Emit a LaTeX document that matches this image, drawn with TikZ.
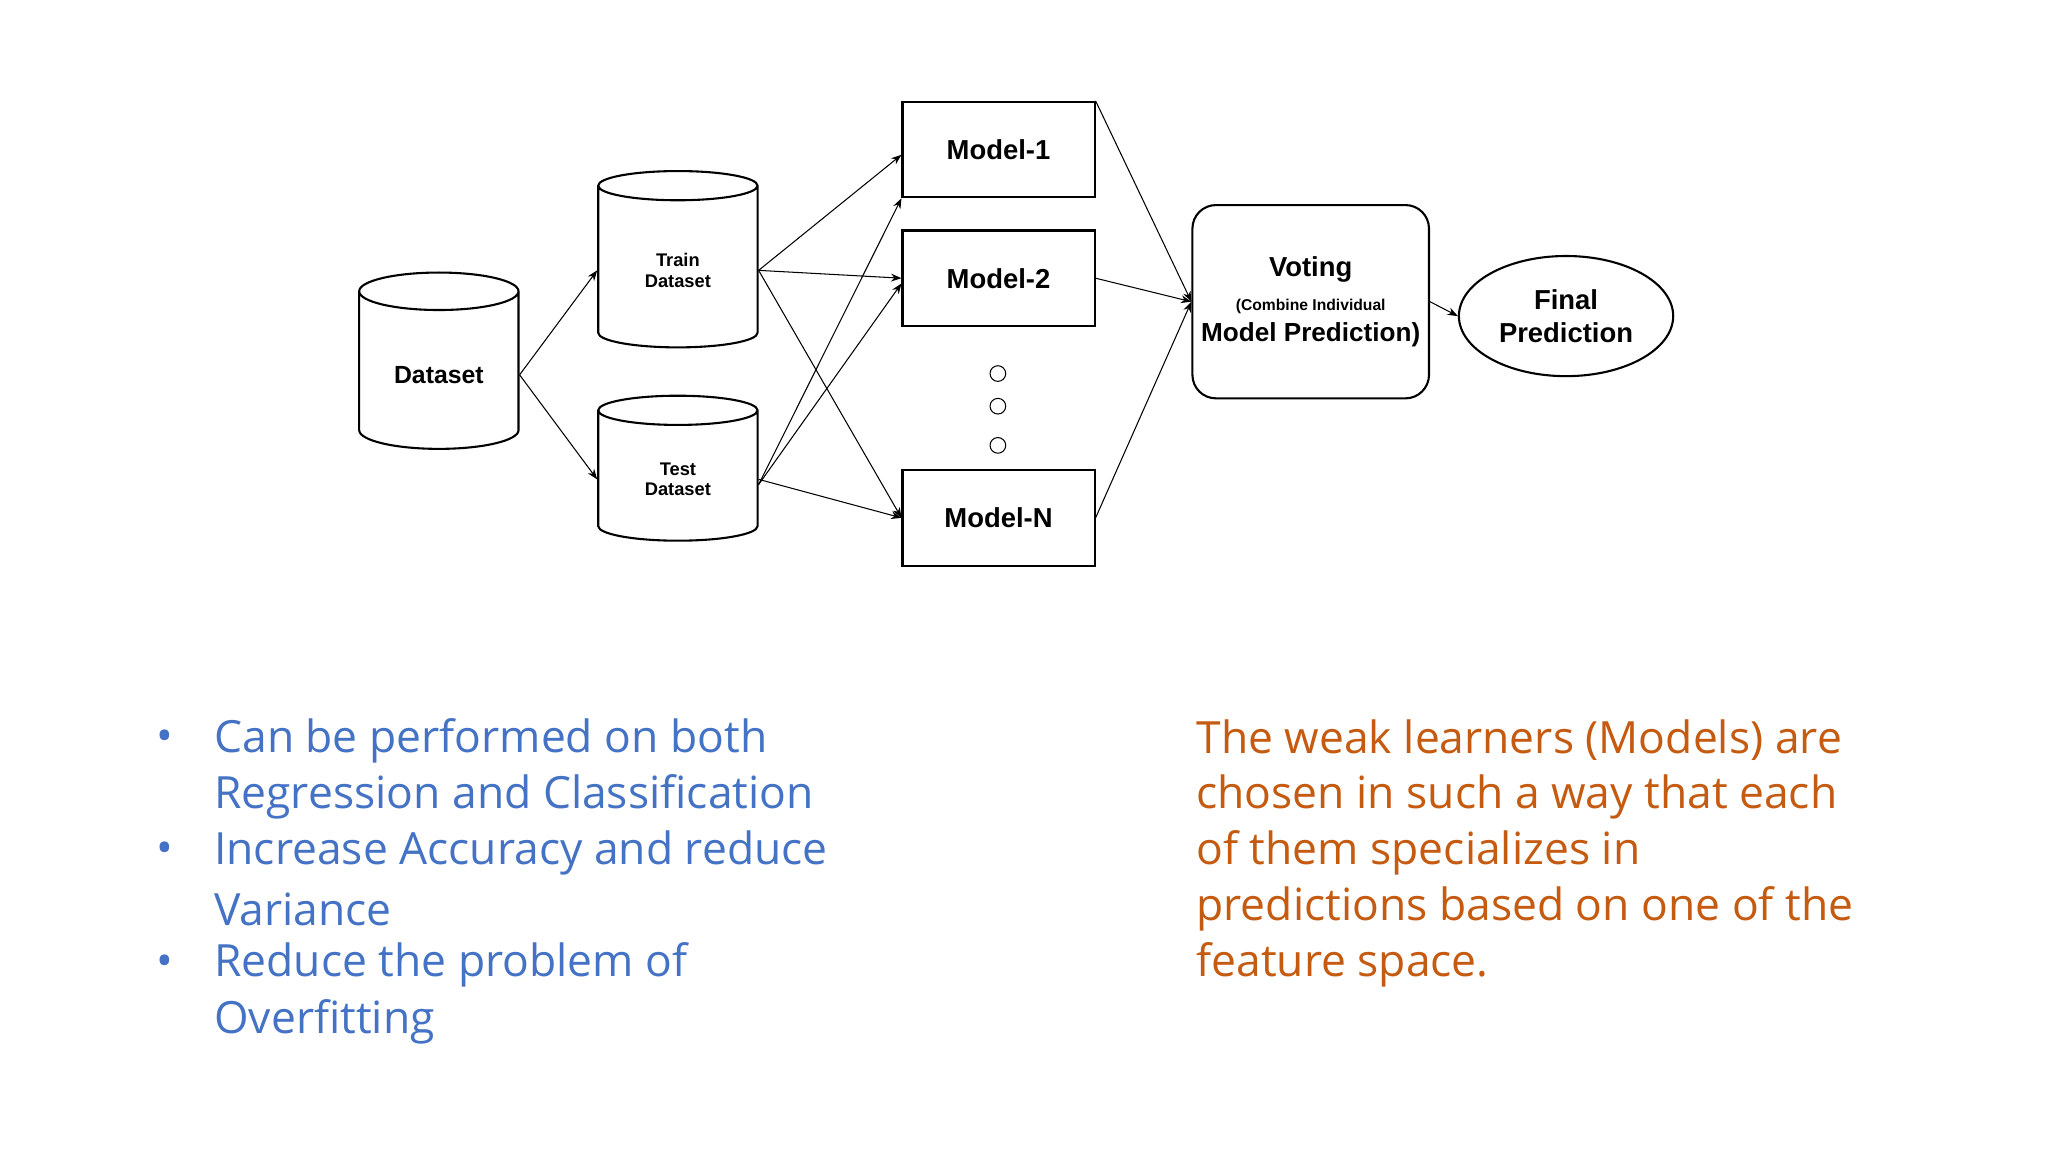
\documentclass[tikz,border=0pt]{standalone}
\usepackage{fontspec}
\setmainfont{Liberation Sans}
\newfontfamily\body{Open Sans}
\usetikzlibrary{shapes.geometric,arrows.meta}
\definecolor{bl}{HTML}{4472C4}
\definecolor{or}{HTML}{C55A11}
\begin{document}
\begin{tikzpicture}[x=0.5pt,y=-0.5pt,
 cyl/.style={cylinder,shape border rotate=90,draw,thick,aspect=0.35,minimum width=61pt,align=center,font=\bfseries\fontsize{7}{8}\selectfont},
 box/.style={draw,thick,minimum width=73.5pt,minimum height=36.5pt,font=\bfseries\fontsize{10.5}{12}\selectfont},
 arr/.style={-{Stealth[length=4pt,width=3pt]},thin},
 dot/.style={circle,draw,inner sep=0pt,minimum size=6pt},
 btxt/.style={anchor=west,font=\body\fontsize{17}{21.5}\selectfont}]
\useasboundingbox (0,0) rectangle (1568,882);
\node[cyl,minimum height=67.5pt,font=\bfseries\fontsize{9.5}{11}\selectfont] (ds) at (336,287) {Dataset};
\node[cyl,minimum height=67.5pt] (tr) at (519,207) {Train\\Dataset};
\node[cyl,minimum height=55.5pt] (te) at (519,367) {Test\\Dataset};
\node[box] (m1) at (764.5,114.5) {Model-1};
\node[box] (m2) at (764.5,213) {Model-2};
\node[box] (mn) at (764.5,396.5) {Model-N};
\node[dot] (d1) at (764,286) {};
\node[dot] (d2) at (764,311) {};
\node[dot] (d3) at (764,341) {};
\node[draw,thick,rounded corners=9pt,minimum width=79.5pt,minimum height=74pt,align=center,font=\bfseries] (v) at (1003.5,231)
 {\fontsize{10.5}{12}\selectfont Voting\\[1pt]\fontsize{6}{8.5}\selectfont (Combine Individual\\Model Prediction)};
\node[ellipse,draw,thick,minimum width=67pt,minimum height=46pt,align=center,font=\bfseries\fontsize{10.5}{12.5}\selectfont] (fp) at (1199,242) {Final\\Prediction};
\draw[arr] (ds.east) -- (tr.west);
\draw[arr] (ds.east) -- (te.west);
\draw[arr] (tr.east) -- ([yshift=-2pt]m1.west);
\draw[arr] (tr.east) -- (m2.west);
\draw[arr] (tr.east) -- (mn.west);
\draw[arr] ([yshift=-2pt]te.east) -- (m1.south west);
\draw[arr] ([yshift=-2pt]te.east) -- ([yshift=-2pt]m2.west);
\draw[arr] (te.east) -- (mn.west);
\draw[arr] (m1.north east) -- (v.west);
\draw[arr] (m2.east) -- (v.west);
\draw[arr] (mn.east) -- (v.west);
\draw[arr] (v.east) -- (fp.west);
\node[btxt,text=bl] (b1) at (157,567) {Can be performed on both};
\node[btxt,text=bl] (b1b) at (157,610) {Regression and Classification};
\node[btxt,text=bl] (b2) at (157,653) {Increase Accuracy and reduce};
\node[btxt,text=bl] (b2b) at (157,696) {Variance};
\node[btxt,text=bl] (b3) at (157,739) {Reduce the problem of};
\node[btxt,text=bl] (b3b) at (157,782) {Overfitting};
\foreach \y in {567,653,739}{\node[btxt,text=bl,anchor=center] at (126,\y) {•};}
\node[btxt,text=or] (r1) at (909,567) {The weak learners (Models) are};
\node[btxt,text=or] (r2) at (909,610) {chosen in such a way that each};
\node[btxt,text=or] (r3) at (909,653) {of them specializes in};
\node[btxt,text=or] (r4) at (909,696) {predictions based on one of the};
\node[btxt,text=or] (r5) at (909,739) {feature space.};
\end{tikzpicture}
\end{document}
